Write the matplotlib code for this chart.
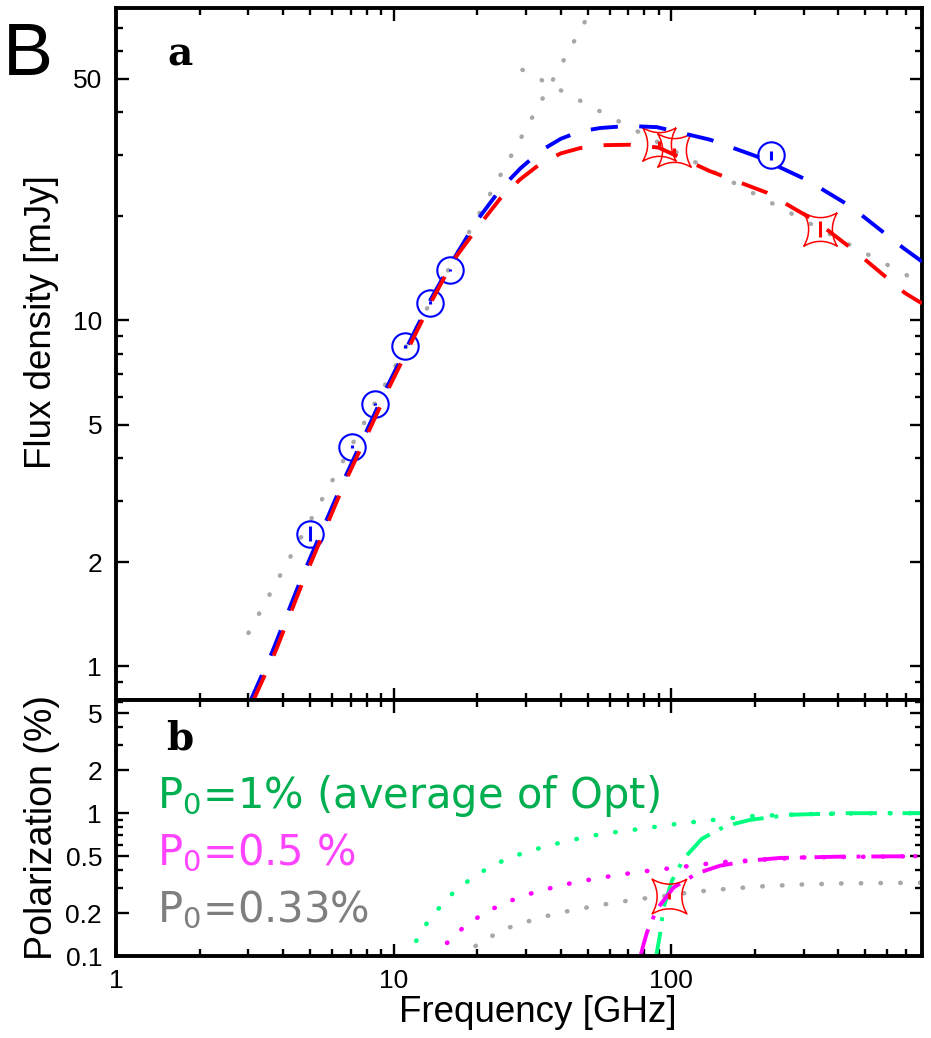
import matplotlib
matplotlib.use("Agg")
import matplotlib.pyplot as plt
from matplotlib.path import Path
from matplotlib.ticker import FixedLocator, FixedFormatter, NullFormatter

plt.rcParams["font.family"] = ["Liberation Sans", "DejaVu Sans"]

# ---- panel a: flux density (GHz, mJy) ----
circ_freq = [5.0, 7.1, 8.6, 11.0, 13.5, 16.0, 228.0]
circ_flux = [2.42, 4.32, 5.73, 8.41, 11.27, 14.0, 30.0]
circ_err = [0.12, 0.04, 0.05, 0.08, 0.1, 0.12, 0.9]

star_freq = [90.5, 102.5, 343.6]
star_flux = [32.4, 31.0, 18.4]
star_err = [0.6, 0.6, 1.0]

blue_freq = [3.06, 3.66, 4.63, 6.54, 9.49, 13.6, 16.0, 20.0, 24.3, 28.6, 34.0,
             40.0, 47.0, 55.6, 70.0, 88.8, 138.0, 203.0, 307.0, 441.0, 685.0, 800.0]
blue_flux = [0.8, 1.105, 1.78, 3.39, 6.45, 11.5, 14.5, 19.5, 24.0, 27.5, 31.0,
             33.5, 35.2, 36.0, 36.5, 36.2, 33.3, 29.8, 25.5, 21.4, 16.2, 14.8]

red_freq = [3.13, 3.76, 4.74, 6.66, 9.67, 13.8, 16.5, 20.5, 24.3, 28.6, 34.0,
            40.0, 47.0, 55.6, 71.0, 90.0, 138.0, 221.0, 334.0, 466.0, 695.0, 800.0]
red_flux = [0.8, 1.11, 1.78, 3.39, 6.45, 11.5, 15.0, 19.0, 22.6, 25.6, 28.5,
            30.4, 31.5, 32.1, 32.2, 31.6, 27.0, 23.4, 19.3, 15.7, 12.0, 11.2]

rise_freq = [3.0, 52.0]
rise_flux = [1.25, 80.0]
fall_freq = [29.1, 800.0]
fall_flux = [53.0, 12.8]

# ---- panel b: polarization (%) ----
g_dot_freq = [11.1, 12.1, 13.1, 14.4, 15.9, 17.9, 20.3, 23.3, 26.7, 31.1, 41.6,
              56.3, 77.3, 105.0, 142.0, 195.0, 308.0, 500.0, 800.0]
g_dot_pol = [0.097, 0.129, 0.167, 0.211, 0.263, 0.319, 0.379, 0.441, 0.494, 0.547,
             0.636, 0.716, 0.776, 0.842, 0.898, 0.953, 0.985, 0.997, 1.0]
g_dd_freq = [87.5, 91.3, 93.8, 100.6, 110.7, 128.8, 156.4, 192.4, 268.0, 428.0, 800.0]
g_dd_pol = [0.09, 0.146, 0.219, 0.337, 0.478, 0.661, 0.811, 0.898, 0.975, 1.0, 1.0]

m_dot_freq = [14.0, 15.6, 17.4, 19.8, 22.6, 26.0, 30.0, 34.9, 40.4, 47.1, 55.1,
              64.1, 74.8, 87.1, 101.4, 138.0, 161.0, 300.0, 800.0]
m_dot_pol = [0.097, 0.124, 0.152, 0.183, 0.213, 0.241, 0.268, 0.291, 0.314, 0.333,
             0.352, 0.369, 0.385, 0.4, 0.413, 0.445, 0.458, 0.49, 0.5]
m_dd_freq = [77.0, 79.5, 81.7, 88.8, 102.0, 123.7, 150.0, 192.0, 247.0, 405.0, 800.0]
m_dd_pol = [0.095, 0.121, 0.146, 0.213, 0.302, 0.379, 0.429, 0.466, 0.486, 0.496, 0.5]

k_dot_freq = [17.3, 19.9, 22.6, 26.0, 30.3, 35.0, 40.8, 47.5, 55.2, 64.3, 74.8,
              87.1, 101.4, 118.7, 138.0, 161.0, 221.0, 299.0, 411.0, 557.0, 800.0]
k_dot_pol = [0.097, 0.119, 0.138, 0.158, 0.174, 0.189, 0.203, 0.215, 0.227, 0.238,
             0.249, 0.258, 0.268, 0.28, 0.288, 0.296, 0.309, 0.317, 0.322, 0.324, 0.326]

pol_star_freq = [97.8]
pol_star_val = [0.264]
pol_star_err = [0.012]

# square marker with concave sides (corners on the diagonals)
c = 0.42
star = Path([(1, 1), (0, c), (-1, 1), (-c, 0), (-1, -1), (0, -c), (1, -1), (c, 0), (1, 1)],
            [Path.MOVETO] + [Path.CURVE3] * 8)

W, H = 931, 1038
fig = plt.figure(figsize=(W / 100, H / 100), dpi=100)
ax1 = fig.add_axes([116 / W, 1 - 700 / H, 806 / W, 692 / H])
ax2 = fig.add_axes([116 / W, 1 - 956 / H, 806 / W, 256 / H])

dash = (0, (7, 5.5))
gdot = (0, (0.1, 4.8))
ax1.plot(rise_freq, rise_flux, color="#a8a8a8", lw=3.2, ls=gdot, dash_capstyle="round")
ax1.plot(fall_freq, fall_flux, color="#a8a8a8", lw=3.2, ls=gdot, dash_capstyle="round")
ax1.errorbar(circ_freq, circ_flux, yerr=circ_err, fmt="o", ms=19, mfc="none", mec="blue",
             mew=1.5, ecolor="blue", elinewidth=2.2, capsize=0, zorder=3)
ax1.errorbar(star_freq, star_flux, yerr=star_err, fmt="none", ecolor="red",
             elinewidth=2.2, capsize=0, zorder=3)
ax1.plot(star_freq, star_flux, ls="none", marker=star, ms=24, mfc="none", mec="red",
         mew=1.1, zorder=3)
ax1.plot(blue_freq, blue_flux, color="blue", lw=2.8, ls=dash, zorder=4)
ax1.plot(red_freq, red_flux, color="red", lw=2.8, ls=dash, zorder=4)

pdot = (0, (0.1, 4.2))
pdd = (0, (8, 2.8, 1, 2.8))
ax2.plot(g_dot_freq, g_dot_pol, color="#00ff80", lw=3.3, ls=pdot, dash_capstyle="round")
ax2.plot(m_dot_freq, m_dot_pol, color="#ff00ff", lw=3.3, ls=pdot, dash_capstyle="round")
ax2.plot(k_dot_freq, k_dot_pol, color="#a8a8a8", lw=3.3, ls=pdot, dash_capstyle="round")
ax2.plot(g_dd_freq, g_dd_pol, color="#00ff80", lw=2.8, ls=pdd)
ax2.plot(m_dd_freq, m_dd_pol, color="#ff00ff", lw=2.8, ls=pdd)
ax2.errorbar(pol_star_freq, pol_star_val, yerr=pol_star_err, fmt="none", ecolor="red",
             elinewidth=2, capsize=0)
ax2.plot(pol_star_freq, pol_star_val, ls="none", marker=star, ms=25, mfc="none",
         mec="red", mew=1.1)

for ax in (ax1, ax2):
    ax.set_xscale("log")
    ax.set_yscale("log")
    ax.set_xlim(1, 800)
    for s in ax.spines.values():
        s.set_linewidth(2.8)
    ax.tick_params(which="both", direction="in", top=True, right=True, width=1.7,
                   labelsize=19)
    ax.tick_params(which="major", length=9)
    ax.tick_params(which="minor", length=5)
    ax.tick_params(axis="y", pad=10)
    ax.tick_params(axis="x", pad=9)
    ax.xaxis.set_major_locator(FixedLocator([1, 10, 100]))
    ax.xaxis.set_minor_locator(FixedLocator([2, 3, 4, 5, 6, 7, 8, 9, 20, 30, 40, 50, 60, 70,
                                             80, 90, 200, 300, 400, 500, 600, 700]))
    ax.xaxis.set_minor_formatter(NullFormatter())
    ax.yaxis.set_minor_formatter(NullFormatter())

ax1.set_ylim(0.8, 80)
ax1.yaxis.set_major_locator(FixedLocator([1, 2, 5, 10, 50]))
ax1.yaxis.set_major_formatter(FixedFormatter(["1", "2", "5", "10", "50"]))
ax1.yaxis.set_minor_locator(FixedLocator([0.9, 3, 4, 6, 7, 8, 9, 20, 30, 40, 60, 70]))
ax1.tick_params(axis="x", labelbottom=False)

ax2.set_ylim(0.1, 6.2)
ax2.yaxis.set_major_locator(FixedLocator([0.1, 0.2, 0.5, 1, 2, 5]))
ax2.yaxis.set_major_formatter(FixedFormatter(["0.1", "0.2", "0.5", "1", "2", "5"]))
ax2.yaxis.set_minor_locator(FixedLocator([0.3, 0.4, 0.6, 0.7, 0.8, 0.9, 3, 4, 6]))
ax2.xaxis.set_major_formatter(FixedFormatter(["1", "10", "100"]))


def px(x, y):
    return x / W, 1 - y / H


fig.text(*px(3, 75), "B", fontsize=54, va="baseline", ha="left")
fig.text(*px(180, 65), "a", fontsize=28, family="DejaVu Serif", weight="bold",
         ha="center", va="baseline")
fig.text(*px(180, 750), "b", fontsize=28, family="DejaVu Serif", weight="bold",
         ha="center", va="baseline")
fig.text(*px(42, 322), "Flux density [mJy]", fontsize=26.5, rotation=90,
         ha="center", va="center")
fig.text(*px(42, 828), "Polarization (%)", fontsize=27, rotation=90,
         ha="center", va="center")
fig.text(*px(538, 1012), "Frequency [GHz]", fontsize=26.5, ha="center", va="center")

leg = [("P$_0$=1% (average of Opt)", "#00b050", 808),
       ("P$_0$=0.5 %", "#ff44ff", 865),
       ("P$_0$=0.33%", "#7f7f7f", 922)]
for txt, col, base in leg:
    fig.text(*px(157, base), txt, fontsize=30, color=col, family="DejaVu Sans",
             ha="left", va="baseline")

fig.savefig("out.png", dpi=100)
